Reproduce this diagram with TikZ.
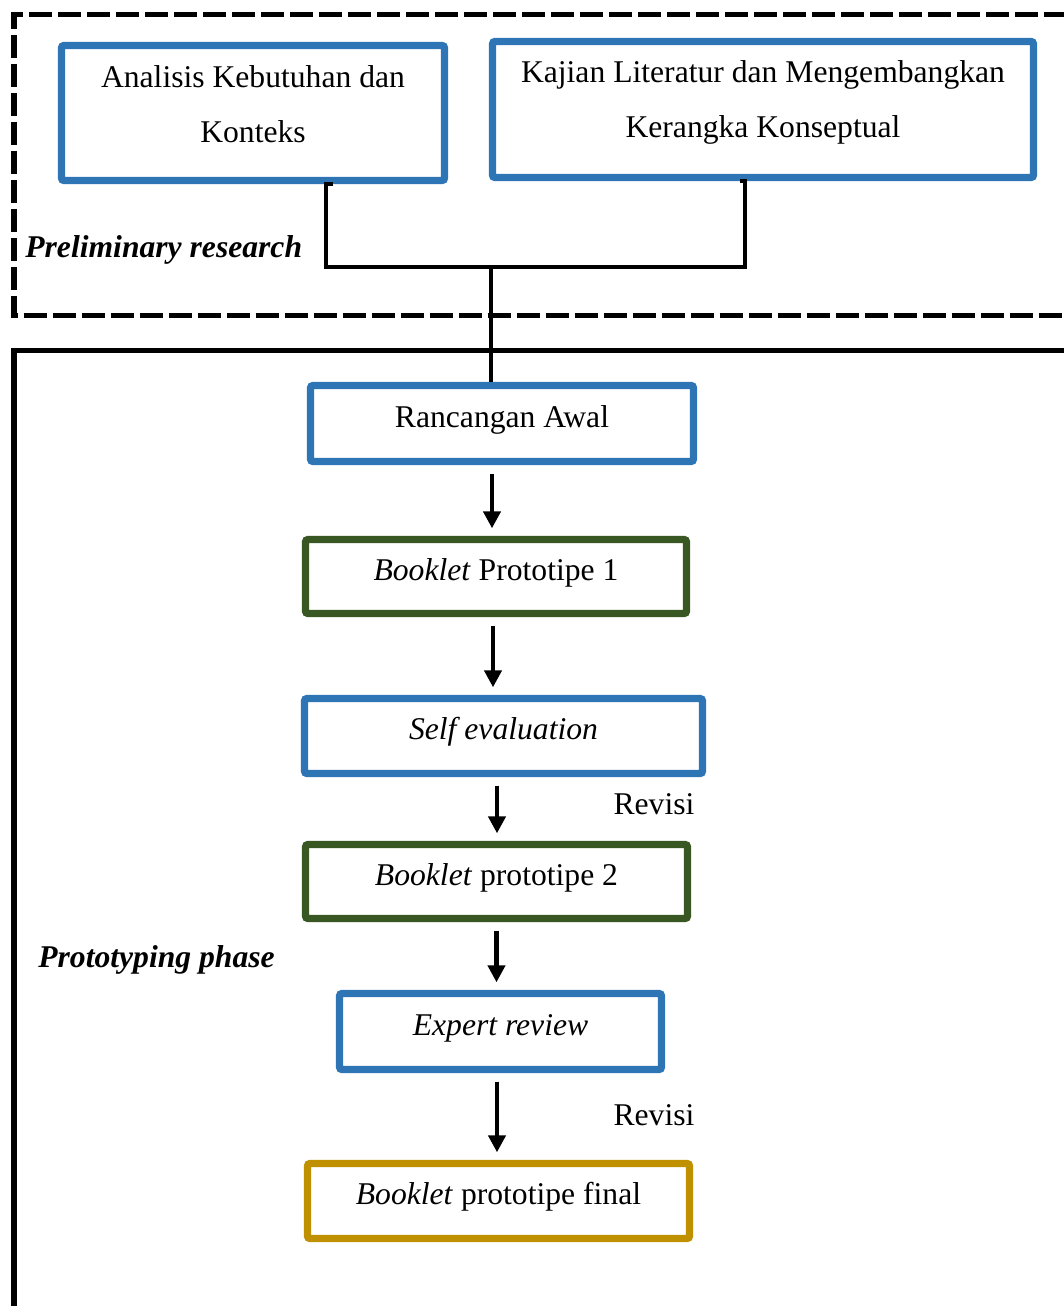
\documentclass[tikz,border=0pt]{standalone}
\usepackage{fontspec}
\setmainfont{Liberation Serif}
\usetikzlibrary{arrows.meta,positioning}
\definecolor{boxblue}{RGB}{46,117,182}
\definecolor{boxgreen}{RGB}{56,87,35}
\definecolor{boxgold}{RGB}{191,144,0}
\newcommand{\lowstrut}[1]{\rule[-#1]{0pt}{#1}}

\begin{document}
\begin{tikzpicture}[>={Triangle[length=0.34cm,width=0.34cm]},
  font=\fontsize{18}{31}\selectfont,
  box/.style={draw,line width=4.2pt,rounded corners=1.5pt,inner sep=0pt,
    text height=12pt,text depth=8pt},
  topbox/.style={draw,line width=4.2pt,rounded corners=1.5pt,inner sep=0pt,align=center},
  arrow/.style={->,line width=2.4pt,shorten <=0.17cm,shorten >=0.15cm},
  conn/.style={line width=2.1pt},
  phase/.style={font=\fontsize{18}{22}\selectfont\bfseries\itshape,inner sep=0pt,anchor=west}]
  \tikzstyle{frame} = [line width=2.85pt]
  \useasboundingbox (0,0) rectangle (21.28,-26.12);

  % stage frames
  \draw[frame,dash pattern=on 0.46cm off 0.12cm] (22.5,-0.29) -| (0.28,-6.3) -- (22.5,-6.3);
  \draw[frame] (22.5,-7.0) -| (0.28,-27);

  \node[phase] (PRELIM) at (0.5,-5.0) {Preliminary research};
  \node[phase] (PROTO)  at (0.76,-19.2) {Prototyping phase};

  % preliminary research
  \node[topbox,draw=boxblue,minimum width=7.66cm,minimum height=2.7cm]  (ANALISIS) at (5.06,-2.26)
    {Analisis Kebutuhan dan\\Konteks\lowstrut{0.36cm}};
  \node[topbox,draw=boxblue,minimum width=10.82cm,minimum height=2.72cm] (KAJIAN) at (15.26,-2.19)
    {Kajian Literatur dan Mengembangkan\\Kerangka Konseptual\lowstrut{0.42cm}};

  % prototyping phase
  \node[box,draw=boxblue,minimum width=7.66cm,minimum height=1.52cm]  (RANCANGAN) at (10.04,-8.47) {Rancangan Awal};
  \node[box,draw=boxgreen,minimum width=7.62cm,minimum height=1.48cm] (PROTO1)    at (9.92,-11.53) {\textit{Booklet} Prototipe 1};
  \node[box,draw=boxblue,minimum width=7.96cm,minimum height=1.5cm]   (SELF)      at (10.07,-14.72) {\textit{Self evaluation}};
  \node[box,draw=boxgreen,minimum width=7.64cm,minimum height=1.48cm] (PROTO2)    at (9.93,-17.63) {\textit{Booklet} prototipe 2};
  \node[box,draw=boxblue,minimum width=6.44cm,minimum height=1.52cm]  (EXPERT)    at (10.01,-20.63) {\textit{Expert review}};
  \node[box,draw=boxgold,minimum width=7.64cm,minimum height=1.5cm]   (FINAL)     at (9.97,-24.02) {\textit{Booklet} prototipe final};

  \node (REV1) at (13.08,-16.08) {Revisi};
  \node (REV2) at (13.08,-22.30) {Revisi};

  % joining the two studies
  \coordinate (JOINL) at (6.52,-5.34);
  \coordinate (JOINR) at (14.9,-5.34);
  \coordinate (JOIN)  at (9.82,-5.34);
  \draw[conn] ([xshift=1.6cm]ANALISIS.south) -| (JOINL) -- (JOINR) |- ([xshift=-0.46cm]KAJIAN.south);
  \draw[conn] (JOIN) -- (JOIN |- RANCANGAN.north);

  \path[arrow]
      ([xshift=-0.2cm]RANCANGAN.south) edge ([xshift=-0.2cm]RANCANGAN.south |- PROTO1.north)
      ([xshift=-0.06cm]PROTO1.south)   edge ([xshift=-0.06cm]PROTO1.south |- SELF.north)
      ([xshift=-0.13cm]SELF.south)     edge ([xshift=-0.13cm]SELF.south |- PROTO2.north)
      (PROTO2.south)                   edge (PROTO2.south |- EXPERT.north)
      ([xshift=-0.07cm]EXPERT.south)   edge ([xshift=-0.07cm]EXPERT.south |- FINAL.north);
\end{tikzpicture}
\end{document}
